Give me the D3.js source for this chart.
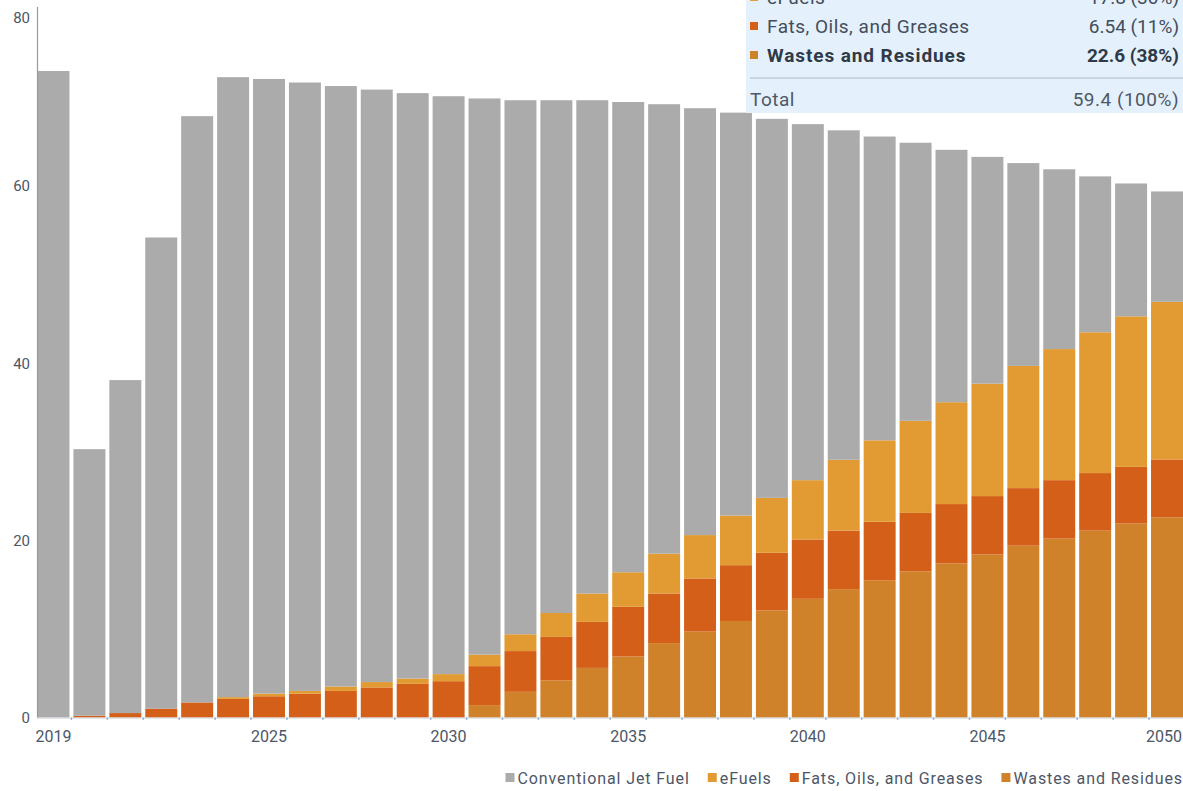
<!DOCTYPE html>
<html><head><meta charset="utf-8">
<script src="https://cdn.jsdelivr.net/npm/d3@7/dist/d3.min.js"></script>
<style>
body{margin:0;background:#fff;overflow:hidden}
svg{display:block}
text{font-family:Roboto,"Noto Sans","DejaVu Sans",sans-serif}
</style>
</head><body>
<svg id="chart" width="1183" height="791"></svg>
<script>
const years = [2019,2020,2021,2022,2023,2024,2025,2026,2027,2028,2029,2030,2031,2032,2033,2034,2035,2036,2037,2038,2039,2040,2041,2042,2043,2044,2045,2046,2047,2048,2049,2050];
const wastesResidues = [0,0,0,0,0,0,0,0,0,0,0,0,1.4,2.9,4.2,5.6,6.9,8.4,9.7,10.9,12.1,13.4,14.5,15.5,16.5,17.4,18.4,19.4,20.2,21.1,21.9,22.6];
const fatsOilsGreases = [0,0.2,0.5,1.0,1.7,2.1,2.4,2.7,3.0,3.4,3.8,4.1,4.4,4.6,4.9,5.2,5.6,5.6,6.0,6.3,6.5,6.7,6.6,6.6,6.6,6.7,6.6,6.5,6.6,6.5,6.4,6.54];
const eFuels = [0,0,0,0,0,0.2,0.3,0.3,0.5,0.6,0.6,0.8,1.3,1.9,2.7,3.2,3.9,4.5,4.9,5.6,6.2,6.7,8.0,9.2,10.4,11.5,12.7,13.8,14.8,15.9,17.0,17.8];
const conventionalJetFuel = [73.0,30.1,37.6,53.2,66.2,70.0,69.4,68.7,67.8,66.9,66.1,65.25,62.8,60.3,57.9,55.7,53.1,50.75,48.2,45.5,42.8,40.2,37.2,34.3,31.4,28.5,25.6,22.9,20.3,17.6,15.0,12.46];

const seriesKeys = ["wastes","fog","efuels","conv"];
const seriesNames = {conv:"Conventional Jet Fuel", efuels:"eFuels", fog:"Fats, Oils, and Greases", wastes:"Wastes and Residues"};
const seriesColors = {conv:"#ababab", efuels:"#e29b33", fog:"#d45f19", wastes:"#d0822a"};
const legendOrder = ["conv","efuels","fog","wastes"];

const yTicks = [0,20,40,60,80];
const xTickYears = [2019,2025,2030,2035,2040,2045,2050];

const tipLabels = ["eFuels","Fats, Oils, and Greases","Wastes and Residues"];
const tipKeys = ["efuels","fog","wastes"];
const tipValues = ["17.8 (30%)","6.54 (11%)","22.6 (38%)"];
const tipTotalLabel = "Total";
const tipTotalValue = "59.4 (100%)";
const tipBold = [false,false,true];

const rows = years.map((yr,i)=>({year:yr, wastes:wastesResidues[i], fog:fatsOilsGreases[i], efuels:eFuels[i], conv:conventionalJetFuel[i]}));

const W = 1183;
const svg = d3.select("#chart");
const x = d3.scaleBand().domain(years).range([37.5,W]).paddingInner(0.11).paddingOuter(0);
const y = d3.scaleLinear().domain([0,80]).range([717.5,9]);

const stacked = d3.stack().keys(seriesKeys)(rows);

svg.append("g").selectAll("g").data(stacked).join("g")
  .attr("fill", d=>seriesColors[d.key])
  .selectAll("rect").data(d=>d).join("rect")
  .attr("x", d=>x(d.data.year))
  .attr("width", x.bandwidth())
  .attr("y", d=>y(d[1]))
  .attr("height", d=>Math.max(0, y(d[0]) - y(d[1])));

// baseline
svg.append("line").attr("x1",37).attr("x2",W).attr("y1",y(0)+0.5).attr("y2",y(0)+0.5)
  .attr("stroke","#c9ced6").attr("stroke-width",1);
// x tick marks in gaps
svg.append("g").selectAll("line").data(years.slice(1)).join("line")
  .attr("x1", d=>x(d) - x.step()*x.paddingInner()/2)
  .attr("x2", d=>x(d) - x.step()*x.paddingInner()/2)
  .attr("y1", y(0)).attr("y2", y(0)+2.5)
  .attr("stroke","#9fb4cc").attr("stroke-width",1.5);

// y axis line
svg.append("line").attr("x1",37.5).attr("x2",37.5).attr("y1",y(80)-2).attr("y2",y(0))
  .attr("stroke","#9a9a9a").attr("stroke-width",1.2);

// y tick labels
svg.append("g").selectAll("text").data(yTicks).join("text")
  .attr("x",30).attr("y", d=>Math.max(y(d), 18))
  .attr("dy","0.35em").attr("text-anchor","end")
  .attr("font-size",15).attr("fill","#4d5666")
  .text(d=>d);

// x tick labels (kept inside the canvas)
svg.append("g").selectAll("text").data(xTickYears).join("text")
  .attr("y", 736).attr("dy","0.35em").attr("text-anchor","middle")
  .attr("font-size",16).attr("fill","#4d5666")
  .text(d=>d)
  .each(function(d){
    const w = this.getComputedTextLength();
    let cx = x(d)+x.bandwidth()/2;
    cx = Math.min(cx, W - 1 - w/2);
    d3.select(this).attr("x", cx);
  });

// legend (right aligned)
const lg = svg.append("g");
const legendFont = 16;
let items = legendOrder.map(k=>{
  const g = lg.append("g");
  g.append("rect").attr("width",9).attr("height",9).attr("y",-5).attr("fill",seriesColors[k]);
  const t = g.append("text").attr("x",12).attr("dy","0.35em").attr("font-size",legendFont)
    .attr("letter-spacing",0.9).attr("fill","#4d5666").text(seriesNames[k]);
  return {g, w: 12 + t.node().getComputedTextLength()};
});
const legendGap = 18;
let total = d3.sum(items, d=>d.w) + legendGap*(items.length-1);
let cx = W - total;
items.forEach(it=>{ it.g.attr("transform",`translate(${cx},778)`); cx += it.w + legendGap; });

// tooltip panel
const tip = svg.append("g");
tip.append("rect").attr("x",746).attr("y",-10).attr("width",440).attr("height",123).attr("fill","#e4f0fc");
const rowY = [-3, 26, 55];
tipLabels.forEach((lab,i)=>{
  tip.append("rect").attr("x",750).attr("y",rowY[i]-4).attr("width",8).attr("height",8).attr("fill",seriesColors[tipKeys[i]]);
  tip.append("text").attr("x",767).attr("y",rowY[i]).attr("dy","0.35em")
    .attr("font-size",19).attr("letter-spacing",tipBold[i]?0.9:0.5).attr("font-weight",tipBold[i]?"bold":"normal")
    .attr("fill", tipBold[i]?"#2f3a48":"#434d5b").text(lab);
  tip.append("text").attr("x",1179).attr("y",rowY[i]).attr("dy","0.35em").attr("text-anchor","end")
    .attr("font-size",19).attr("font-weight",tipBold[i]?"bold":"normal")
    .attr("fill", tipBold[i]?"#2f3a48":"#434d5b").text(tipValues[i]);
});
tip.append("line").attr("x1",750).attr("x2",W).attr("y1",78).attr("y2",78).attr("stroke","#c3ccd6").attr("stroke-width",1.5);
tip.append("text").attr("x",750).attr("y",99).attr("dy","0.35em").attr("font-size",19).attr("letter-spacing",0.5).attr("fill","#4f5866").text(tipTotalLabel);
tip.append("text").attr("x",1179).attr("y",99).attr("dy","0.35em").attr("text-anchor","end").attr("font-size",19).attr("letter-spacing",0.5).attr("fill","#4f5866").text(tipTotalValue);
</script>
</body></html>
